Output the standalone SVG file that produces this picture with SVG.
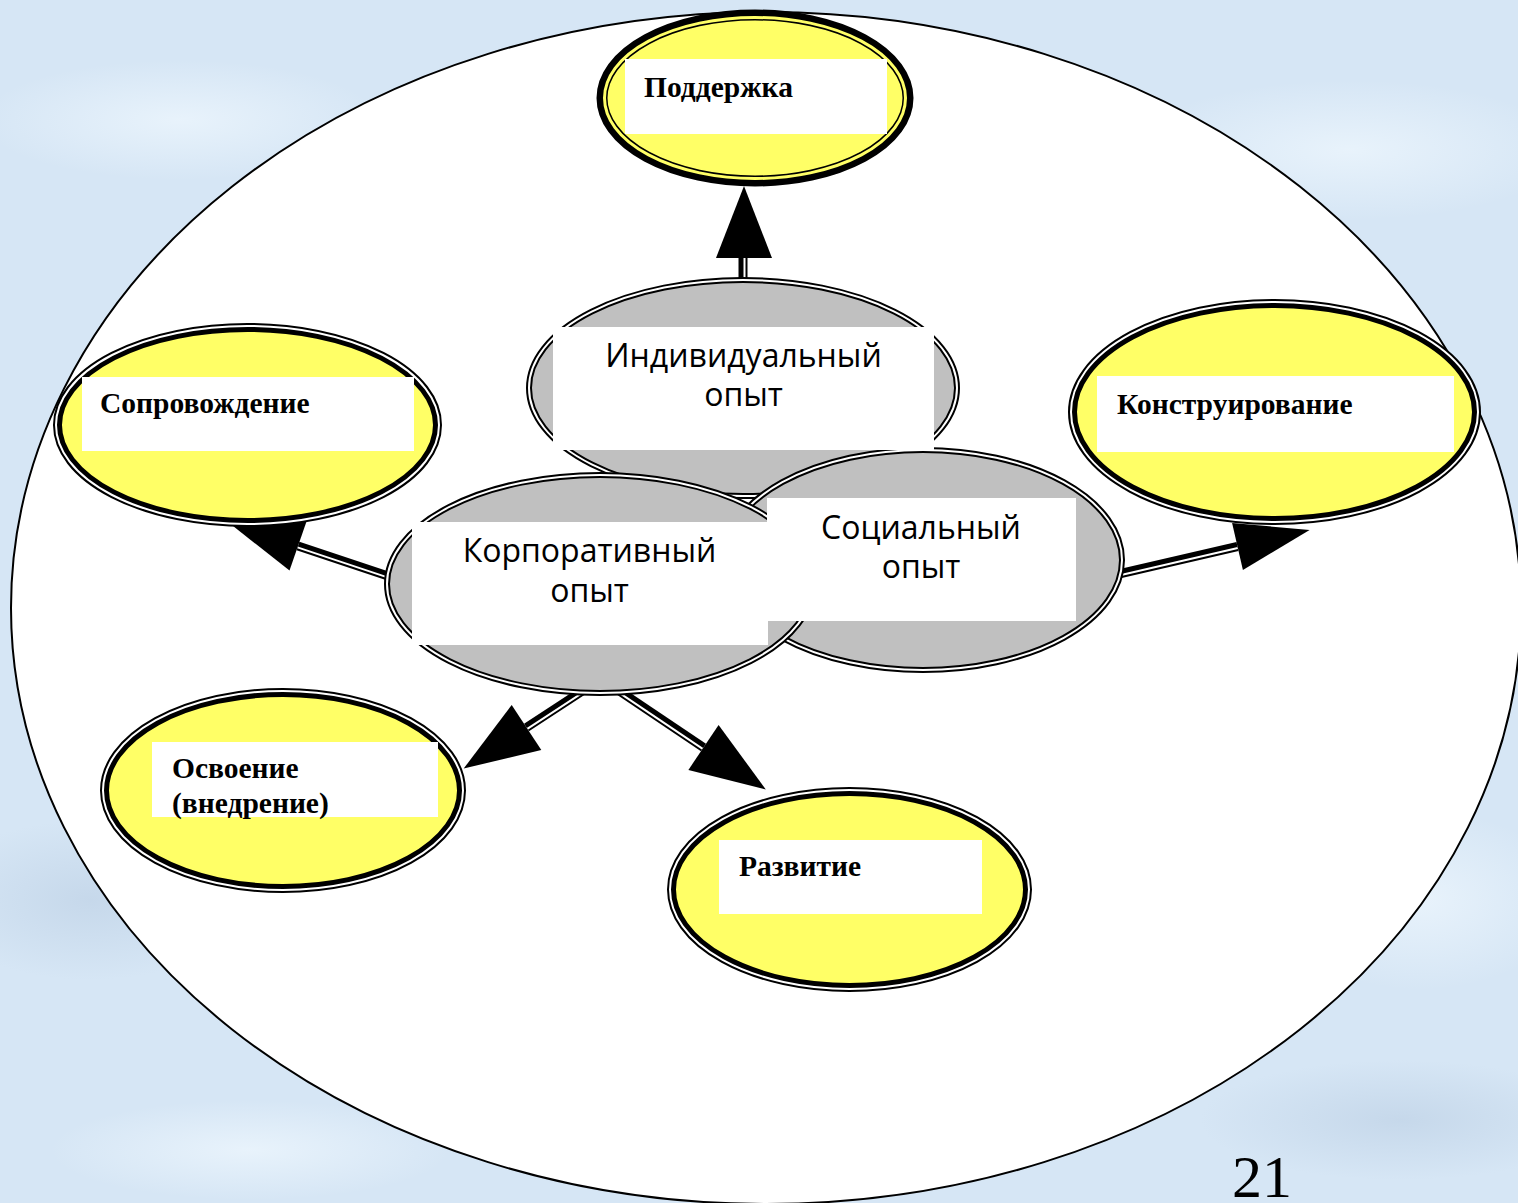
<svg xmlns="http://www.w3.org/2000/svg" width="1518" height="1203" viewBox="0 0 1518 1203">
<defs>
<style>
.yl{fill:#ffff66;stroke:#000;stroke-width:9}
.yw{fill:none;stroke:#fff;stroke-width:2}
.gr{fill:#c0c0c0;stroke:#000;stroke-width:6}
.gw{fill:none;stroke:#fff;stroke-width:2}
.box{fill:#fff}
.st{font-family:"Liberation Serif","Times New Roman",serif;font-weight:bold;font-size:29.5px;fill:#000}
.sn{font-family:"Open Sans","Noto Sans",sans-serif;font-size:32px;fill:#000;text-anchor:middle}
.sh{stroke:#000;stroke-width:9;fill:none}
.shw{stroke:#fff;stroke-width:2;fill:none}
.hd{fill:#000}
</style>
<radialGradient id="blot" cx="0.5" cy="0.5" r="0.5">
<stop offset="0" stop-color="#eaf4fc" stop-opacity="0.9"/>
<stop offset="1" stop-color="#eaf4fc" stop-opacity="0"/>
</radialGradient>
<radialGradient id="blotd" cx="0.5" cy="0.5" r="0.5">
<stop offset="0" stop-color="#bfd2e6" stop-opacity="0.7"/>
<stop offset="1" stop-color="#bfd2e6" stop-opacity="0"/>
</radialGradient>
</defs>
<g id="background">
<rect x="0" y="0" width="1518" height="1203" fill="#d6e6f5"/>
<ellipse cx="180" cy="120" rx="200" ry="60" fill="url(#blot)"/>
<ellipse cx="1350" cy="150" rx="220" ry="70" fill="url(#blot)"/>
<ellipse cx="90" cy="900" rx="160" ry="80" fill="url(#blotd)"/>
<ellipse cx="1420" cy="900" rx="150" ry="90" fill="url(#blot)"/>
<ellipse cx="1400" cy="1120" rx="200" ry="60" fill="url(#blotd)"/>
<ellipse cx="250" cy="1150" rx="200" ry="50" fill="url(#blot)"/>
</g>
<g id="frame">
<ellipse cx="766" cy="608" rx="755" ry="596" fill="#fff" stroke="#000" stroke-width="2"/>
</g>
<g id="connectors">
<g id="c-podderzhka">
<line class="sh" x1="743" y1="292" x2="743" y2="256"/>
<line class="shw" x1="744.5" y1="292" x2="744.5" y2="256"/>
<polygon class="hd" points="744,186 716,258 772,258"/>
</g>
<g id="c-soprovozhdenie">
<line class="sh" x1="400" y1="580" x2="298" y2="546"/>
<line class="shw" x1="399.5" y1="581.4" x2="297.5" y2="547.4"/>
<polygon class="hd" points="228,522 289.5,570.6 306.5,521.4"/>
</g>
<g id="c-konstruirovanie">
<line class="sh" x1="1110" y1="576" x2="1237.5" y2="546.5"/>
<line class="shw" x1="1110.3" y1="577.5" x2="1237.8" y2="548"/>
<polygon class="hd" points="1309.6,529.9 1232.1,523.1 1242.9,569.9"/>
</g>
<g id="c-osvoenie">
<line class="sh" x1="590" y1="686" x2="526.5" y2="727.5"/>
<line class="shw" x1="590.8" y1="687.3" x2="527.3" y2="728.8"/>
<polygon class="hd" points="463.7,768.5 541.3,750.1 511.7,704.9"/>
</g>
<g id="c-razvitie">
<line class="sh" x1="612" y1="686" x2="703.5" y2="747.5"/>
<line class="shw" x1="611.2" y1="687.3" x2="702.7" y2="748.8"/>
<polygon class="hd" points="765.8,789.4 688.4,769.9 718.6,725.1"/>
</g>
</g>
<g id="n-individualny">
<ellipse class="gr" cx="743" cy="388" rx="214" ry="108"/>
<ellipse class="gw" cx="743" cy="388" rx="214" ry="108"/>
</g>
<g id="n-socialny">
<ellipse class="gr" cx="923" cy="560" rx="199" ry="110"/>
<ellipse class="gw" cx="923" cy="560" rx="199" ry="110"/>
</g>
<g id="n-korporativny">
<ellipse class="gr" cx="600" cy="584" rx="213" ry="109"/>
<ellipse class="gw" cx="600" cy="584" rx="213" ry="109"/>
</g>
<g id="t-individualny">
<rect class="box" x="553" y="327" width="381" height="123"/>
<text class="sn" x="743.5" y="367">Индивидуальный</text>
<text class="sn" x="743.5" y="406">опыт</text>
</g>
<g id="t-korporativny">
<rect class="box" x="412" y="522" width="356" height="123"/>
<text class="sn" x="589.5" y="562">Корпоративный</text>
<text class="sn" x="589.5" y="602">опыт</text>
</g>
<g id="t-socialny">
<rect class="box" x="767" y="498" width="309" height="123"/>
<text class="sn" x="921" y="539">Социальный</text>
<text class="sn" x="921" y="578">опыт</text>
</g>
<g id="n-podderzhka">
<ellipse cx="755" cy="98" rx="153" ry="83" fill="#ffff66" stroke="#000" stroke-width="11"/>
<ellipse cx="755" cy="98" rx="150.5" ry="80.5" fill="none" stroke="#ffff66" stroke-width="3"/>
<rect class="box" x="625" y="59" width="262" height="75"/>
<text class="st" x="644" y="97">Поддержка</text>
</g>
<g id="n-soprovozhdenie">
<ellipse class="yl" cx="247.5" cy="425" rx="190" ry="97.5"/>
<ellipse class="yw" cx="247.5" cy="425" rx="191.5" ry="99"/>
<rect class="box" x="82" y="377" width="332" height="74"/>
<text class="st" x="100" y="413">Сопровождение</text>
</g>
<g id="n-konstruirovanie">
<ellipse class="yl" cx="1274.5" cy="412" rx="202" ry="108.5"/>
<ellipse class="yw" cx="1274.5" cy="412" rx="203.5" ry="110"/>
<rect class="box" x="1097" y="376" width="357" height="76"/>
<text class="st" x="1117" y="414">Конструирование</text>
</g>
<g id="n-osvoenie">
<ellipse class="yl" cx="283" cy="790.5" rx="178.5" ry="98"/>
<ellipse class="yw" cx="283" cy="790.5" rx="180" ry="99.5"/>
<rect class="box" x="152" y="742" width="286" height="75"/>
<text class="st" x="172" y="778">Освоение</text>
<text class="st" x="172" y="813">(внедрение)</text>
</g>
<g id="n-razvitie">
<ellipse class="yl" cx="849.5" cy="889.5" rx="178" ry="98"/>
<ellipse class="yw" cx="849.5" cy="889.5" rx="179.5" ry="99.5"/>
<rect class="box" x="719" y="840" width="263" height="74"/>
<text class="st" x="739" y="876">Развитие</text>
</g>
<text x="1232" y="1197" font-family="Liberation Serif, 'Times New Roman', serif" font-size="60" fill="#000">21</text>
</svg>
